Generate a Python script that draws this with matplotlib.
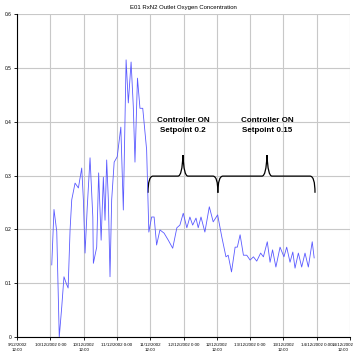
import numpy as np
import matplotlib
matplotlib.use("Agg")
import matplotlib.pyplot as plt
from matplotlib.path import Path
from matplotlib.patches import PathPatch

plt.rcParams['font.family'] = ['Liberation Sans Narrow', 'Liberation Sans', 'DejaVu Sans']

# hours since 9/12/2002 12:00
hours = [12.5, 13.3, 14.3, 15.2, 16.1, 16.9, 17.7, 18.4, 19.1, 19.7, 20.9, 22.1,
         23.3, 23.9, 24.5, 25.3, 26.3, 27.3, 27.5, 28.7, 29.4, 30.3, 31.1, 31.7,
         32.3, 32.9, 33.5, 34.1, 35.0, 36.1, 37.4, 38.3, 39.3, 40.1, 41.1, 41.9,
         42.5, 43.4, 44.3, 45.3, 46.7, 47.5, 48.5, 49.4, 50.3, 51.5, 53.0, 54.5,
         56.1, 57.6, 58.7, 59.9, 61.2, 62.3, 63.3, 64.5, 65.3, 66.3, 67.7, 69.3,
         70.7, 72.3, 73.8, 75.3, 76.1, 77.3, 78.6, 79.4, 80.4, 81.6, 82.8, 84.0,
         85.2, 86.4, 87.8, 88.8, 90.2, 91.2, 92.1, 93.3, 94.8, 96.2, 97.2, 98.4,
         99.4, 100.2, 101.4, 102.6, 103.8, 105.0, 106.4, 107.1]
oxygen = [0.134, 0.237, 0.196, 0.0, 0.056, 0.112, 0.10, 0.091, 0.199, 0.255, 0.286, 0.277,
          0.314, 0.255, 0.156, 0.242, 0.333, 0.223, 0.137, 0.167, 0.305, 0.180, 0.297, 0.217,
          0.329, 0.255, 0.112, 0.255, 0.325, 0.335, 0.39, 0.236, 0.515, 0.435, 0.511, 0.428,
          0.325, 0.481, 0.425, 0.425, 0.348, 0.195, 0.223, 0.223, 0.171, 0.199, 0.193, 0.180,
          0.165, 0.203, 0.208, 0.230, 0.203, 0.223, 0.208, 0.221, 0.203, 0.223, 0.195, 0.242,
          0.214, 0.227, 0.186, 0.149, 0.152, 0.121, 0.167, 0.167, 0.190, 0.152, 0.152, 0.143,
          0.149, 0.141, 0.156, 0.149, 0.177, 0.139, 0.162, 0.130, 0.167, 0.149, 0.167, 0.139,
          0.158, 0.128, 0.156, 0.130, 0.156, 0.130, 0.177, 0.147]

tick_hours = [0, 12, 24, 36, 48, 60, 72, 84, 96, 108, 120]
tick_labels = ["9/12/2002\n12:00", "10/12/2002 0:00", "10/12/2002\n12:00",
               "11/12/2002 0:00", "11/12/2002\n12:00", "12/12/2002 0:00",
               "12/12/2002\n12:00", "13/12/2002 0:00", "13/12/2002\n12:00",
               "14/12/2002 0:00", "14/12/2002\n12:00"]
y_ticks = [0, 0.1, 0.2, 0.3, 0.4, 0.5, 0.6]
y_labels = ["0", "0.1", "0.2", "0.3", "0.4", "0.5", "0.6"]

# brace spans (start, tip, end) and their labels
braces = [(47.2, 59.8, 72.4), (72.4, 90.1, 107.4)]
brace_text = ["Controller ON\nSetpoint 0.2", "Controller ON\nSetpoint 0.15"]


def draw_brace(ax, x0, xm, x1, y_end=0.268, y_mid=0.299, y_tip=0.338):
    r = 1.8
    verts = [(x0, y_end), (x0, y_mid), (x0 + r, y_mid),
             (xm - r, y_mid),
             (xm - 0.3, y_mid), (xm, y_tip),
             (xm + 0.3, y_mid), (xm + r, y_mid),
             (x1 - r, y_mid),
             (x1, y_mid), (x1, y_end)]
    codes = [Path.MOVETO, Path.CURVE3, Path.CURVE3, Path.LINETO,
             Path.CURVE3, Path.CURVE3, Path.CURVE3, Path.CURVE3,
             Path.LINETO, Path.CURVE3, Path.CURVE3]
    ax.add_patch(PathPatch(Path(verts, codes), fill=False, lw=0.9, color='black'))


fig = plt.figure(figsize=(3.56, 3.62), dpi=100)
ax = fig.add_axes([0.048, 0.069, 0.935, 0.892])

ax.plot(hours, oxygen, color='#5a5aff', lw=0.6)

for (x0, xm, x1), txt in zip(braces, brace_text):
    draw_brace(ax, x0, xm, x1)
    ax.text(xm, 0.393, txt, ha='center', va='center', fontsize=5.8,
            fontweight='bold', linespacing=1.7)

ax.set_xlim(0, 120)
ax.set_ylim(0, 0.6)
ax.set_xticks(tick_hours)
# last label is drawn separately, nudged left so it stays inside the figure
ax.set_xticklabels(tick_labels[:-1] + [""], fontsize=3.2, va='top', linespacing=1.6)
ax.annotate(tick_labels[-1], xy=(tick_hours[-1], 0), xycoords=ax.get_xaxis_transform(),
            xytext=(-5, -4), textcoords='offset points', ha='center', va='top',
            fontsize=3.2, linespacing=1.6)
ax.set_yticks(y_ticks)
ax.set_yticklabels(y_labels, fontsize=3.5)
ax.tick_params(length=2, width=0.6, pad=2)
ax.grid(True, color='#c8c8c8', lw=0.8)
ax.set_axisbelow(True)
for s in ['top', 'right']:
    ax.spines[s].set_visible(False)
for s in ['left', 'bottom']:
    ax.spines[s].set_linewidth(0.8)

ax.set_title("E01 RxN2 Outlet Oxygen Concentration", fontsize=4.3, pad=4)

fig.savefig("out.png", dpi=100)
